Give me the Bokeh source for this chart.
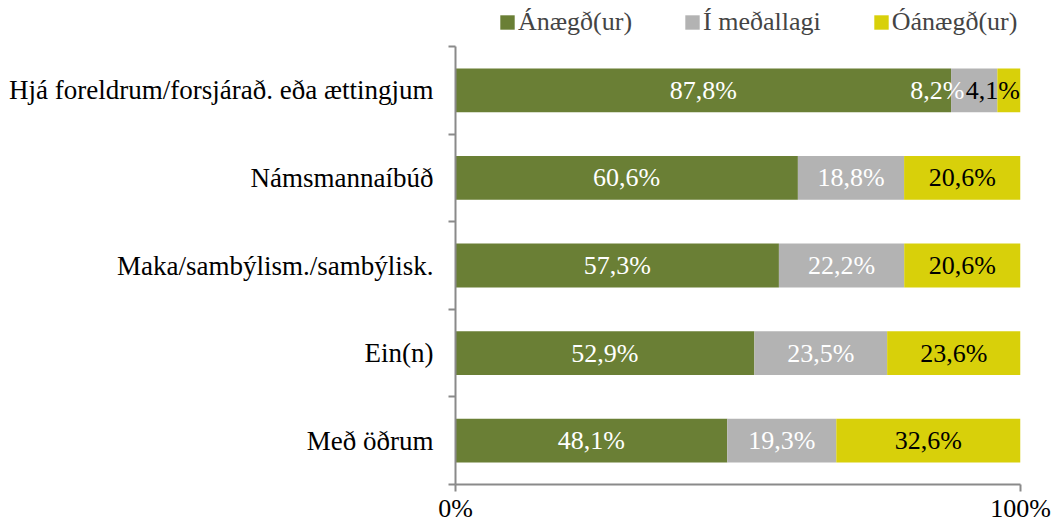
import numpy as np
from bokeh.plotting import figure
from bokeh.models import Range1d, FixedTicker, Legend, LegendItem, ColumnDataSource
from bokeh.core.properties import value
from bokeh.embed import file_html
from bokeh.resources import INLINE

categories = ["Hjá foreldrum/forsjárað. eða ættingjum", "Námsmannaíbúð",
              "Maka/sambýlism./sambýlisk.", "Ein(n)", "Með öðrum"]
series_names = ["Ánægð(ur)", "Í meðallagi", "Óánægð(ur)"]
anaegd = [87.8, 60.6, 57.3, 52.9, 48.1]
medallagi = [8.2, 18.8, 22.2, 23.5, 19.3]
oanaegd = [4.1, 20.6, 20.6, 23.6, 32.6]
x_ticks = [0, 1]
x_tick_labels = ["0%", "100%"]

colors = ["#6a7f35", "#b3b3b3", "#d8d00a"]
text_colors = ["white", "white", "black"]
FONT = "Liberation Serif"
# pixel nudges for crowded labels: (row, series) -> x offset
label_nudge = {(0, 1): -37, (0, 2): -16}

series = [anaegd, medallagi, oanaegd]
n = len(categories)
ypos = [n - 1 - i for i in range(n)]
totals = [sum(s[i] for s in series) for i in range(n)]

# frame spans the full top so the legend can sit inside it
band_px = 87.6
top_pad = 46 / band_px
p = figure(width=1053, height=526, output_backend="svg", toolbar_location=None,
           x_range=Range1d(0, 1), y_range=Range1d(-0.5, n - 0.5 + top_pad),
           min_border_left=455, min_border_right=33, min_border_top=0,
           min_border_bottom=42)
p.outline_line_color = None
p.xgrid.visible = False
p.ygrid.visible = False

renderers = []
left = [0.0] * n
for k, s in enumerate(series):
    frac = [s[i] / totals[i] for i in range(n)]
    right = [left[i] + frac[i] for i in range(n)]
    src = ColumnDataSource(dict(y=ypos, left=left, right=right))
    r = p.hbar(y="y", left="left", right="right", height=0.5, source=src,
               fill_color=colors[k], line_color=None)
    renderers.append(r)
    cx = [(left[i] + right[i]) / 2 for i in range(n)]
    labels = [("%.1f%%" % s[i]).replace(".", ",") for i in range(n)]
    offs = [label_nudge.get((i, k), 0) for i in range(n)]
    tsrc = ColumnDataSource(dict(x=cx, y=ypos, t=labels, o=offs))
    p.text(x="x", y="y", text="t", x_offset="o", source=tsrc, text_align="center",
           text_baseline="middle", text_color=text_colors[k],
           text_font=value(FONT), text_font_size="26px")
    left = right

axis_color = "#8a8a8a"
yax = p.yaxis[0]
yax.bounds = (-0.5, n - 0.5)
yax.ticker = FixedTicker(ticks=ypos, minor_ticks=[v - 0.5 for v in range(n + 1)])
yax.major_label_overrides = {ypos[i]: categories[i] for i in range(n)}
yax.major_tick_out = 0
yax.major_tick_in = 0
yax.minor_tick_out = 7
yax.minor_tick_in = 0
yax.minor_tick_line_color = axis_color
yax.minor_tick_line_width = 2
yax.axis_line_color = axis_color
yax.axis_line_width = 2
yax.major_label_text_font = FONT
yax.major_label_text_font_size = "27px"
yax.major_label_text_color = "black"
yax.major_label_standoff = 15

xax = p.xaxis[0]
xax.ticker = FixedTicker(ticks=x_ticks)
xax.major_label_overrides = {x_ticks[i]: x_tick_labels[i] for i in range(len(x_ticks))}
xax.major_tick_out = 7
xax.major_tick_in = 0
xax.major_tick_line_color = axis_color
xax.major_tick_line_width = 2
xax.minor_tick_out = 0
xax.minor_tick_in = 0
xax.axis_line_color = axis_color
xax.axis_line_width = 2
xax.major_label_text_font = FONT
xax.major_label_text_font_size = "26px"
xax.major_label_text_color = "black"
xax.major_label_standoff = 2

legend = Legend(items=[LegendItem(label=series_names[k], renderers=[renderers[k]]) for k in range(3)],
                orientation="horizontal", location=(43, 447),
                glyph_width=18, glyph_height=18, label_standoff=2, spacing=51,
                label_text_font=FONT, label_text_font_size="26px",
                border_line_alpha=0, background_fill_alpha=0, padding=0, margin=0)
p.add_layout(legend, "center")

open("out.html", "w").write(file_html(p, INLINE))
